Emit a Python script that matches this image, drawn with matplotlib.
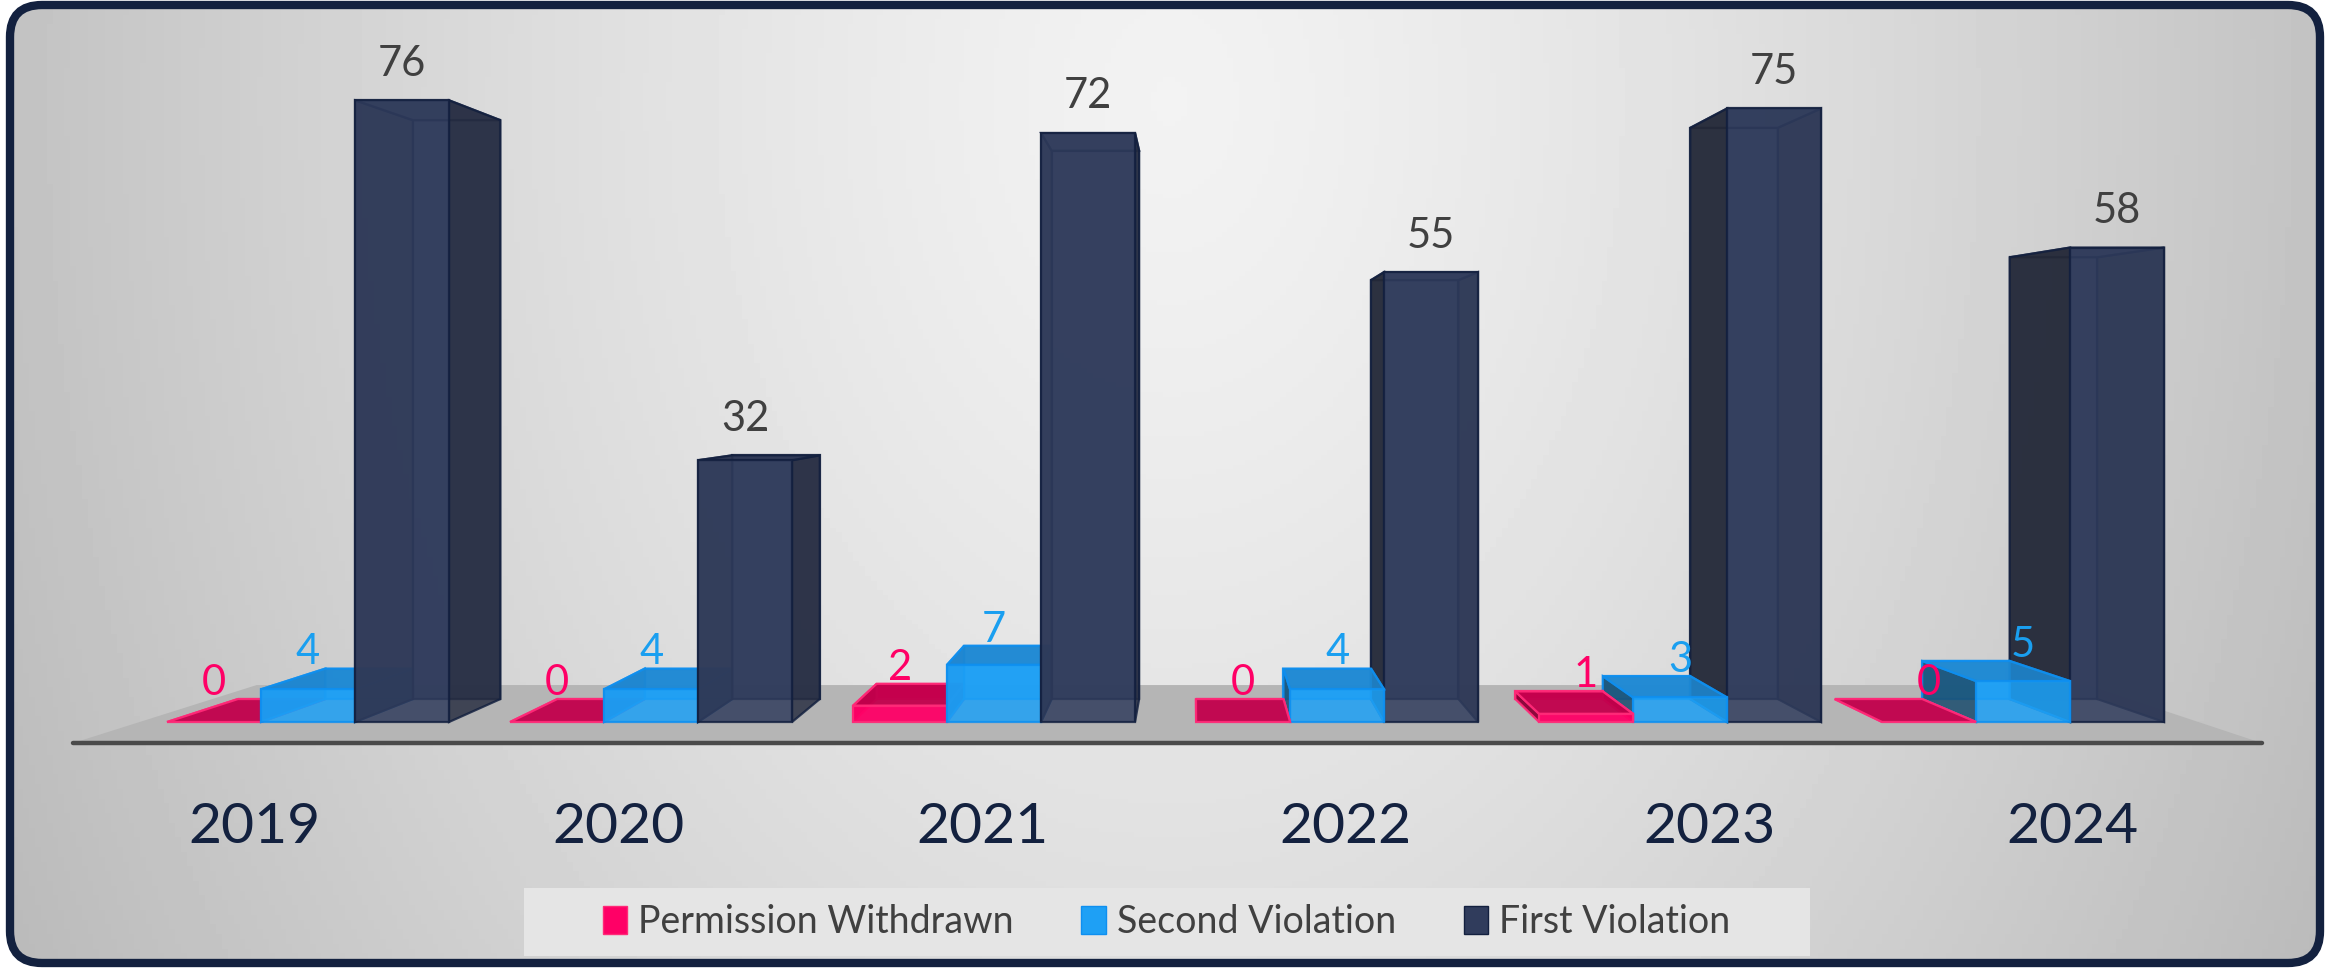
import numpy as np
import matplotlib
matplotlib.use('Agg')
from matplotlib import pyplot as plt
from matplotlib.patches import Polygon, FancyBboxPatch, Rectangle, Patch

plt.rcParams['font.family'] = ['Lato', 'DejaVu Sans']

years = ['2019', '2020', '2021', '2022', '2023', '2024']
seriesNames = ['Permission Withdrawn', 'Second Violation', 'First Violation']
permissionWithdrawn = [0, 0, 2, 0, 1, 0]
secondViolation = [4, 4, 7, 4, 3, 5]
firstViolation = [76, 32, 72, 55, 75, 58]
seriesValues = [permissionWithdrawn, secondViolation, firstViolation]

# front, top, right side, left side, edge, label colour
styles = [
    dict(front='#ff0066', top='#c2004c', right='#a8003f', left='#8a0036', edge='#ff2a78', label='#ff0066', alpha=0.95),
    dict(front='#1ea0f5', top='#1f86cf', right='#0d84dc', left='#1b4d6e', edge='#0e8ff0', label='#1a9ff0', alpha=0.85),
    dict(front='#303c5c', top='#2b3552', right='#282e42', left='#262a37', edge='#13203f', label='#404040', alpha=0.84),
]

W, H = 2338, 968
fig = plt.figure(figsize=(W / 100, H / 100), dpi=100)

# background panel (pixel coords)
bg = fig.add_axes([0, 0, 1, 1])
bg.set_xlim(0, W)
bg.set_ylim(H, 0)
bg.axis('off')

shadow = FancyBboxPatch((16, 10), 2306, 956, boxstyle='round,pad=0,rounding_size=32',
                        facecolor='#9a9a9a', edgecolor='none', alpha=0.5, zorder=0)
bg.add_patch(shadow)
panel = FancyBboxPatch((10, 5), 2310, 958, boxstyle='round,pad=0,rounding_size=32',
                       facecolor='none', edgecolor='#13213f', linewidth=6, zorder=3)
bg.add_patch(panel)
gx, gy = np.meshgrid(np.linspace(0, W, 400), np.linspace(0, H, 200))
u = (gx - 1170) / 1170
v = (gy - 100) / 900
d = np.sqrt(u ** 2 + 0.3 * v ** 2)
grey = np.clip(0.95 - 0.19 * d ** 1.3, 0, 1)
img = bg.imshow(grey, cmap='gray', vmin=0, vmax=1, extent=(0, W, H, 0), zorder=1, aspect='auto')
img.set_clip_path(panel)
bg.add_patch(Rectangle((524, 888), 1286, 68, facecolor='#e5e5e5', edgecolor='none', zorder=2))

# chart axes: x in category units, y in value units
ax = fig.add_axes([0, 0, 1, 1])
ax.patch.set_alpha(0)
ax.set_xlim(-0.898, 5.918)
ax.set_ylim(-30.07, 88.26)
ax.axis('off')

vx, vy = 2.583, 40.7
backS = 0.931
barW = 0.274


def proj(x, y, s):
    return (vx + s * (x - vx), vy + s * (y - vy))


def face(pts, col, st, z):
    ax.add_patch(Polygon(pts, closed=True, facecolor=col, edgecolor=st['edge'],
                         linewidth=1.6, alpha=st['alpha'], zorder=z))


def drawBar(x0, x1, h, st, z):
    front = [proj(x0, 0, 1), proj(x1, 0, 1), proj(x1, h, 1), proj(x0, h, 1)]
    back = [proj(x0, 0, backS), proj(x1, 0, backS), proj(x1, h, backS), proj(x0, h, backS)]
    top = [proj(x0, h, 1), proj(x1, h, 1), proj(x1, h, backS), proj(x0, h, backS)]
    left = [proj(x0, 0, 1), proj(x0, h, 1), proj(x0, h, backS), proj(x0, 0, backS)]
    right = [proj(x1, 0, 1), proj(x1, h, 1), proj(x1, h, backS), proj(x1, 0, backS)]
    face(back, st['front'], st, z)
    if x1 <= vx:
        face(left, st['right'], st, z)
        if h > vy:
            face(top, st['top'], st, z)
        face(right, st['right'], st, z)
    else:
        face(right, st['left'], st, z)
        if h > vy:
            face(top, st['top'], st, z)
        face(left, st['left'], st, z)
    if h <= vy:
        face(top, st['top'], st, z)
    if h > 0:
        face(front, st['front'], st, z)


# floor
xs = np.arange(len(years))
floorL = xs[0] - 1.5 * barW - 0.08
floorR = xs[-1] + 1.5 * barW + 0.1
floor = [proj(floorL, 0, 1.063), proj(floorR, 0, 1.063), proj(floorR, 0, 0.889), proj(floorL, 0, 0.889)]
ax.add_patch(Polygon(floor, closed=True, facecolor='#b5b5b5', edgecolor='none', zorder=1))
fl, fr = proj(floorL, 0, 1.063), proj(floorR, 0, 1.063)
ax.plot([fl[0], fr[0]], [fl[1], fr[1]], color='#4a4a4a', linewidth=3.2, solid_capstyle='round', zorder=1.5)

# bars, painted far-from-eye first
bars = []
for si, vals in enumerate(seriesValues):
    for k, val in enumerate(vals):
        cx = xs[k] + (si - 1) * barW
        bars.append((abs(cx - vx), cx, val, si))
bars.sort(key=lambda b: -b[0])
for z, (dist, cx, val, si) in enumerate(bars):
    drawBar(cx - barW / 2, cx + barW / 2, val, styles[si], 2 + z * 0.1)

# value labels
for si, vals in enumerate(seriesValues):
    off = 3.0 if si == 2 else 0.5
    for k, val in enumerate(vals):
        cx = xs[k] + (si - 1) * barW
        topY = max(val, vy + backS * (val - vy))
        ax.text(cx, topY + off, str(val), ha='center', va='baseline', fontsize=30,
                color=styles[si]['label'], zorder=50)

# category labels
for k, yr in enumerate(years):
    lx = vx + 1.06 * (xs[k] - vx)
    ax.text(lx, -14.8, yr, ha='center', va='baseline', fontsize=41, color='#13213f', zorder=50)

handles = [Patch(facecolor=s['front'], edgecolor=s['edge']) for s in styles]
fig.legend(handles, seriesNames, loc='center', bbox_to_anchor=(0.499, 1 - 922 / H), ncol=3,
           frameon=False, fontsize=27, handlelength=0.65, handleheight=0.75, handletextpad=0.3,
           columnspacing=1.8, labelcolor='#404040')

fig.savefig('out.png', dpi=100)
